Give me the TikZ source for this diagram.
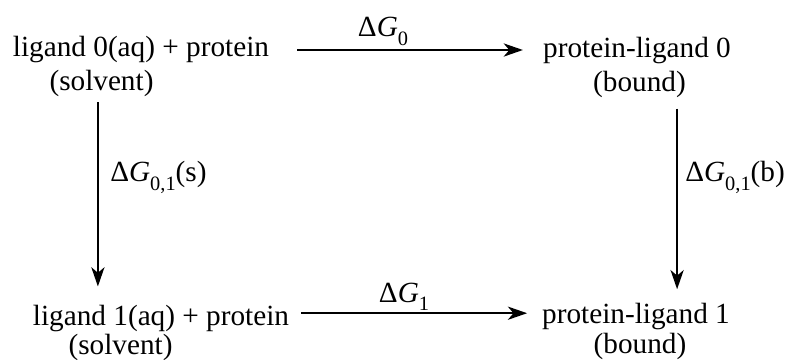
\documentclass[tikz,border=0pt]{standalone}
\usepackage{fontspec}
\setmainfont{Liberation Serif}
\usetikzlibrary{arrows.meta, positioning}

\newcommand{\lowidx}[1]{\raisebox{-0.28em}{\fontsize{14.5}{15}\selectfont #1}}

\begin{document}
\begin{tikzpicture}[
        x=0.025cm, y=-0.025cm,
        txt/.style={anchor=base, inner sep=0pt,
            font=\fontsize{20.8}{24}\selectfont},
        lbl/.style={txt, anchor=base west},
        arr/.style={-{Stealth[length=4.8mm, width=3.3mm, inset=1.4mm]}, line width=1.05pt},
        harr/.style={arr, line width=1.45pt}
    ]
        \useasboundingbox (0,0) rectangle (789,360);

        % states
        \node[txt] (l0)  at (141,57)    {ligand 0(aq) + protein};
        \node[txt] (l0s) at (101.5,91)  {(solvent)};
        \node[txt] (p0)  at (637,58)    {protein-ligand 0};
        \node[txt] (p0b) at (639.5,92)  {(bound)};
        \node[txt] (l1)  at (161,325)   {ligand 1(aq) + protein};
        \node[txt] (l1s) at (120.5,354) {(solvent)};
        \node[txt] (p1)  at (636,323)   {protein-ligand 1};
        \node[txt] (p1b) at (640,353)   {(bound)};

        % free energies
        \node[txt] (g0)  at (383,37)  {Δ\textit{G}\lowidx{0}};
        \node[txt] (g1)  at (404,302) {Δ\textit{G}\lowidx{1}};
        \node[lbl] (g01s) at (110,182) {Δ\textit{G}\lowidx{0,1}(s)};
        \node[lbl] (g01b) at (685,182) {Δ\textit{G}\lowidx{0,1}(b)};

        \draw[harr, shorten <=0.7cm, shorten >=0.5cm] (l0.east) -- (l0.east -| p0.west);
        \draw[harr, shorten <=0.3cm, shorten >=0.37cm] ([yshift=0.12cm]l1.east) -- ([yshift=0.12cm]l1.east -| p1.west);
        \draw[arr, shorten <=0.12cm, shorten >=0.45cm] ([xshift=-0.09cm]l0s.south) -- ([xshift=-0.09cm]l0s.south |- l1.north);
        \draw[arr, shorten <=0.25cm, shorten >=0.33cm] ([xshift=0.94cm]p0b.south) -- ([xshift=0.94cm]p0b.south |- p1.north);
    \end{tikzpicture}
\end{document}
